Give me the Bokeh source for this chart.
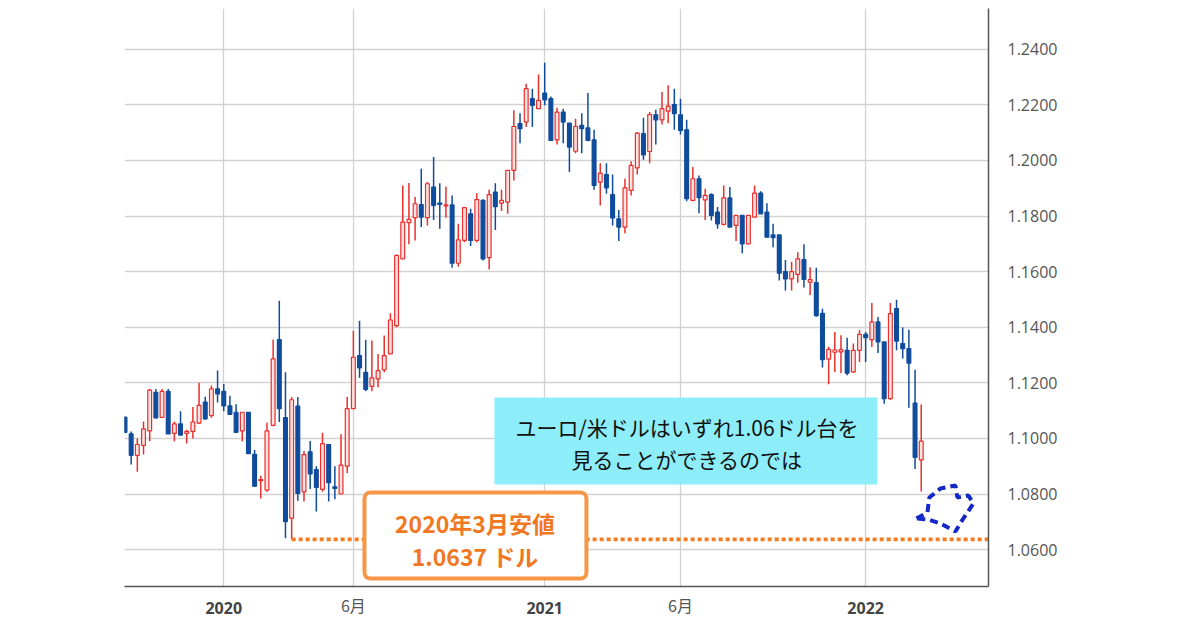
import numpy as np
import pandas as pd
from bokeh.plotting import figure
from bokeh.models import (ColumnDataSource, FixedTicker, Range1d, Label, LinearAxis,
                          BoxAnnotation, PolyAnnotation, PrintfTickFormatter)
from bokeh.embed import file_html
from bokeh.resources import INLINE

# ---------------- data (weekly EUR/USD candles) ----------------
first_week = "2019-09-16"

open_ = [1.1076, 1.1016, 1.0939, 1.0975, 1.1027, 1.1166, 1.1076, 1.1169, 1.1018, 1.1052,
         1.1018, 1.1025, 1.1055, 1.1131, 1.1082, 1.1178, 1.1169, 1.1117, 1.1094, 1.1027,
         1.1094, 1.0943, 1.0848, 1.0814, 1.1047, 1.1355, 1.1075, 1.0713, 1.1116, 1.0808,
         1.0952, 1.0888, 1.0817, 1.0978, 1.0826, 1.0800, 1.0900, 1.1107, 1.1298, 1.1238,
         1.1187, 1.1214, 1.1247, 1.1304, 1.1406, 1.1646, 1.1776, 1.1794, 1.1841, 1.1794,
         1.1904, 1.1846, 1.1836, 1.1840, 1.1630, 1.1712, 1.1808, 1.1712, 1.1856, 1.1650,
         1.1886, 1.1846, 1.1850, 1.1964, 1.2132, 1.2138, 1.2222, 1.2186, 1.2242, 1.2222,
         1.2074, 1.2174, 1.2134, 1.2033, 1.2126, 1.2117, 1.2074, 1.1922, 1.1949, 1.1877,
         1.1790, 1.1760, 1.1892, 1.1973, 1.2096, 1.2032, 1.2164, 1.2146, 1.2177, 1.2201,
         1.2164, 1.2110, 1.1856, 1.1934, 1.1858, 1.1877, 1.1814, 1.1770, 1.1865, 1.1766,
         1.1802, 1.1700, 1.1796, 1.1882, 1.1814, 1.1732, 1.1732, 1.1600, 1.1574, 1.1590,
         1.1643, 1.1562, 1.1560, 1.1450, 1.1285, 1.1310, 1.1311, 1.1317, 1.1239, 1.1317,
         1.1374, 1.1355, 1.1419, 1.1347, 1.1143, 1.1467, 1.1341, 1.1323, 1.1127, 1.0923]

high = [1.1080, 1.1025, 1.1000, 1.1061, 1.1178, 1.1178, 1.1178, 1.1178, 1.1061, 1.1098,
        1.1031, 1.1113, 1.1200, 1.1150, 1.1190, 1.1244, 1.1196, 1.1153, 1.1123, 1.1094,
        1.1094, 1.0958, 1.0866, 1.1056, 1.1355, 1.1495, 1.1238, 1.1149, 1.1149, 1.0955,
        1.0991, 1.0900, 1.1020, 1.0978, 1.0900, 1.1015, 1.1149, 1.1387, 1.1423, 1.1355,
        1.1352, 1.1304, 1.1370, 1.1450, 1.1662, 1.1910, 1.1919, 1.1868, 1.1970, 1.1922,
        1.2012, 1.1918, 1.1906, 1.1874, 1.1772, 1.1830, 1.1826, 1.1882, 1.1860, 1.1894,
        1.1918, 1.1894, 1.1964, 1.2180, 1.2170, 1.2276, 1.2258, 1.2309, 1.2351, 1.2230,
        1.2189, 1.2186, 1.2134, 1.2150, 1.2170, 1.2242, 1.2110, 1.1990, 1.1990, 1.1949,
        1.1822, 1.1934, 1.1997, 1.2102, 1.2153, 1.2174, 1.2182, 1.2246, 1.2270, 1.2258,
        1.2222, 1.2146, 1.1976, 1.1946, 1.1898, 1.1882, 1.1832, 1.1910, 1.1904, 1.1802,
        1.1802, 1.1802, 1.1910, 1.1889, 1.1846, 1.1772, 1.1732, 1.1642, 1.1635, 1.1670,
        1.1698, 1.1616, 1.1614, 1.1466, 1.1330, 1.1383, 1.1371, 1.1362, 1.1341, 1.1389,
        1.1383, 1.1487, 1.1437, 1.1347, 1.1487, 1.1499, 1.1399, 1.1391, 1.1247, 1.1122]

low = [1.1020, 1.0906, 1.0880, 1.0942, 1.0990, 1.1072, 1.1074, 1.1016, 1.0990, 1.1012,
       1.0982, 1.1000, 1.1052, 1.1067, 1.1074, 1.1129, 1.1098, 1.1086, 1.1022, 1.0990,
       1.0945, 1.0826, 1.0784, 1.0808, 1.1044, 1.1059, 1.0641, 1.0637, 1.0776, 1.0773,
       1.0818, 1.0737, 1.0808, 1.0773, 1.0781, 1.0800, 1.0876, 1.1107, 1.1218, 1.1170,
       1.1170, 1.1184, 1.1238, 1.1304, 1.1400, 1.1646, 1.1698, 1.1712, 1.1760, 1.1766,
       1.1786, 1.1754, 1.1794, 1.1614, 1.1618, 1.1706, 1.1692, 1.1706, 1.1640, 1.1608,
       1.1750, 1.1818, 1.1808, 1.1928, 1.2062, 1.2120, 1.2120, 1.2186, 1.2198, 1.2072,
       1.2057, 1.2062, 1.1958, 1.2026, 1.2026, 1.2069, 1.1894, 1.1838, 1.1880, 1.1766,
       1.1710, 1.1738, 1.1874, 1.1949, 1.2002, 1.1990, 1.2057, 1.2129, 1.2134, 1.2110,
       1.2093, 1.1853, 1.1853, 1.1810, 1.1786, 1.1784, 1.1754, 1.1766, 1.1760, 1.1710,
       1.1666, 1.1698, 1.1796, 1.1808, 1.1724, 1.1688, 1.1568, 1.1532, 1.1532, 1.1560,
       1.1543, 1.1516, 1.1438, 1.1255, 1.1195, 1.1239, 1.1235, 1.1227, 1.1235, 1.1275,
       1.1275, 1.1329, 1.1307, 1.1125, 1.1139, 1.1317, 1.1287, 1.1110, 1.0890, 1.0809]

close = [1.1022, 1.0939, 1.0978, 1.1034, 1.1174, 1.1074, 1.1169, 1.1016, 1.1052, 1.1012,
         1.1025, 1.1059, 1.1119, 1.1070, 1.1178, 1.1160, 1.1117, 1.1086, 1.1022, 1.1094,
         1.0945, 1.0828, 1.0852, 1.1027, 1.1286, 1.1107, 1.0701, 1.1139, 1.0802, 1.0942,
         1.0872, 1.0824, 1.0981, 1.0841, 1.0820, 1.0904, 1.1107, 1.1292, 1.1254, 1.1176,
         1.1218, 1.1244, 1.1298, 1.1426, 1.1658, 1.1778, 1.1788, 1.1844, 1.1796, 1.1916,
         1.1838, 1.1842, 1.1840, 1.1630, 1.1714, 1.1830, 1.1712, 1.1859, 1.1646, 1.1877,
         1.1834, 1.1856, 1.1964, 1.2122, 1.2114, 1.2258, 1.2198, 1.2216, 1.2218, 1.2072,
         1.2174, 1.2138, 1.2048, 1.2122, 1.2114, 1.2072, 1.1910, 1.1954, 1.1901, 1.1793,
         1.1760, 1.1901, 1.1982, 1.2098, 1.2020, 1.2165, 1.2146, 1.2186, 1.2195, 1.2168,
         1.2108, 1.1862, 1.1934, 1.1866, 1.1874, 1.1802, 1.1772, 1.1865, 1.1760, 1.1802,
         1.1700, 1.1802, 1.1882, 1.1808, 1.1724, 1.1722, 1.1594, 1.1574, 1.1600, 1.1646,
         1.1572, 1.1571, 1.1442, 1.1283, 1.1320, 1.1318, 1.1319, 1.1235, 1.1317, 1.1374,
         1.1362, 1.1419, 1.1347, 1.1143, 1.1449, 1.1350, 1.1323, 1.1271, 1.0932, 1.0990]

tick_months = ["2020-01", "2020-06", "2021-01", "2021-06", "2022-01"]
tick_labels = ["2020", "6月", "2021", "6月", "2022"]
price_ticks = [1.06, 1.08, 1.10, 1.12, 1.14, 1.16, 1.18, 1.20, 1.22, 1.24]
march_2020_low = 1.0637
note_lines = ["ユーロ/米ドルはいずれ1.06ドル台を", "見ることができるのでは"]
low_lines = ["2020年3月安値", "1.0637 ドル"]

# ---------------- derived ----------------
weeks = pd.date_range(first_week, periods=len(open_), freq="7D")
x = np.arange(len(open_))
o = np.array(open_)
c = np.array(close)
up = c > o

UP_LINE, UP_FILL, DOWN = "#E8302C", "#FCE2E2", "#0F4C9C"
src = ColumnDataSource(dict(
    x=x, top=np.maximum(o, c), bottom=np.minimum(o, c),
    high=np.array(high), low=np.array(low),
    fill=np.where(up, UP_FILL, DOWN), line=np.where(up, UP_LINE, DOWN),
))

tick_pos = [int(np.argmax(weeks >= pd.Timestamp(m + "-01"))) for m in tick_months]
year_over = {pos: lab for pos, lab in zip(tick_pos, tick_labels) if "月" not in lab}
month_over = {pos: lab for pos, lab in zip(tick_pos, tick_labels) if "月" in lab}
idx_low = int(np.argmin(low))

X0, X1 = -0.08, 139.9
Y0, Y1 = 1.04673, 1.25464

p = figure(width=1076, height=626, output_backend="svg", toolbar_location=None,
           x_range=Range1d(X0, X1), y_range=Range1d(Y0, Y1),
           y_axis_location="right",
           min_border_left=124, min_border_right=88,
           min_border_top=8, min_border_bottom=40)
p.outline_line_color = None
p.background_fill_color = "white"
p.border_fill_color = "white"

# grids
p.xgrid.ticker = FixedTicker(ticks=tick_pos)
p.ygrid.ticker = FixedTicker(ticks=price_ticks)
for g in (p.xgrid, p.ygrid):
    g.grid_line_color = "#d2d2d2"
    g.grid_line_width = 1.3

# x axis: years (bold) on the main axis
xa = p.xaxis[0]
xa.ticker = FixedTicker(ticks=tick_pos)
xa.major_label_overrides = {pos: (year_over.get(pos, "")) for pos in tick_pos}
xa.major_tick_line_color = None
xa.minor_tick_line_color = None
xa.axis_line_color = "#555555"
xa.axis_line_width = 1.5
xa.major_label_text_font = "Open Sans"
xa.major_label_text_font_style = "bold"
xa.major_label_text_font_size = "16px"
xa.major_label_text_color = "#444444"
xa.major_label_standoff = 9

# second axis: month labels (normal weight) pulled up onto the same line
xm = LinearAxis(ticker=FixedTicker(ticks=tick_pos),
                major_label_overrides={pos: (month_over.get(pos, "")) for pos in tick_pos})
xm.axis_line_color = None
xm.major_tick_line_color = None
xm.minor_tick_line_color = None
xm.major_label_text_font = "Noto Sans CJK JP"
xm.major_label_text_font_size = "16px"
xm.major_label_text_color = "#555555"
xm.major_label_standoff = -30
p.add_layout(xm, "below")

ya = p.yaxis[0]
ya.ticker = FixedTicker(ticks=price_ticks)
ya.formatter = PrintfTickFormatter(format="%.4f")
ya.major_tick_line_color = None
ya.minor_tick_line_color = None
ya.axis_line_color = "#555555"
ya.axis_line_width = 1.5
ya.major_label_text_font = "Open Sans"
ya.major_label_text_font_size = "16px"
ya.major_label_text_color = "#555555"
ya.major_label_standoff = 13

# candles
p.segment(x0="x", y0="low", x1="x", y1="high", line_color="line", line_width=1.5, source=src)
p.vbar(x="x", width=0.62, top="top", bottom="bottom", fill_color="fill",
       line_color="line", line_width=1.2, source=src)

# March 2020 low dotted line
p.segment(x0=[idx_low], y0=[march_2020_low], x1=[X1], y1=[march_2020_low],
          line_color="#F47B20", line_width=3.8, line_dash="4 3")

# orange box
p.add_layout(BoxAnnotation(left=38.8, right=74.76, bottom=1.0496, top=1.08054,
                           fill_color="white", fill_alpha=1.0,
                           line_color="#F79646", line_alpha=1.0, line_width=4,
                           border_radius=6))
# cyan box
p.add_layout(BoxAnnotation(left=59.86, right=121.9, bottom=1.08342, top=1.11471,
                           fill_color="#8DEEF9", fill_alpha=1.0, line_color=None))

for txt, yy in zip(note_lines, [1.10421, 1.09245]):
    p.add_layout(Label(x=91.06, y=yy, text=txt, text_font="Noto Sans CJK JP",
                       text_font_size="21px", text_color="#111111",
                       text_align="center", text_baseline="middle"))
for txt, yy in zip(low_lines, [1.06953, 1.05777]):
    p.add_layout(Label(x=56.7, y=yy, text=txt, text_font="Noto Sans CJK JP",
                       text_font_size="23px", text_font_style="bold",
                       text_color="#F07822", text_align="center", text_baseline="middle"))

# blue dashed arrow shape
arrow_xs = [128.22, 130.00, 130.32, 132.11, 134.54, 134.86, 136.64, 137.45, 135.51, 134.54, 132.11, 130.16]
arrow_ys = [1.07119, 1.07335, 1.07874, 1.08198, 1.08306, 1.07874, 1.07946, 1.07659, 1.07012, 1.06652, 1.06939, 1.07083]
p.add_layout(PolyAnnotation(xs=arrow_xs, ys=arrow_ys, fill_color=None, fill_alpha=0,
                            line_color="#1428C8", line_alpha=1.0, line_width=4,
                            line_dash="8 5"))

html = file_html(p, INLINE)
with open("out.html", "w", encoding="utf-8") as f:
    f.write(html)
